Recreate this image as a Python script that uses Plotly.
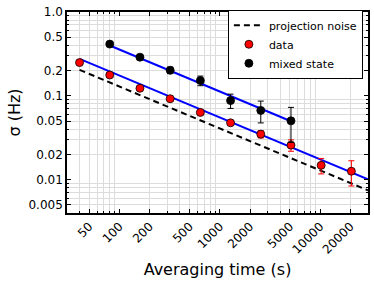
import plotly.graph_objects as go

# ---- data ----
t_data = [40, 80, 160, 320, 640, 1280, 2560, 5120, 10240, 20480]
sigma_data = [0.249, 0.177, 0.123, 0.0923, 0.0634, 0.0476, 0.0349, 0.0258, 0.0148, 0.0126]
err_data = [0.004, 0.003, 0.003, 0.003, 0.003, 0.0025, 0.0035, 0.004, 0.0031, 0.0042]

t_mixed = [80, 160, 320, 640, 1280, 2560, 5120]
sigma_mixed = [0.414, 0.289, 0.202, 0.152, 0.0877, 0.067, 0.0503]
err_mixed = [0.01, 0.012, 0.018, 0.02, 0.017, 0.0195, 0.0225]

proj_t = [40, 30000]
proj_sigma = [0.204, 0.00745]
fit_data_t = [40, 30000]
fit_data_sigma = [0.276, 0.01008]
fit_mixed_t = [80, 5120]
fit_mixed_sigma = [0.398, 0.04975]

x_tickvals = [50, 100, 200, 500, 1000, 2000, 5000, 10000, 20000]
x_ticktext = ["50", "100", "200", "500", "1000", "2000", "5000", "10000", "20000"]
y_tickvals = [0.005, 0.01, 0.02, 0.05, 0.1, 0.2, 0.5, 1.0]
y_ticktext = ["0.005", "0.01", "0.02", "0.05", "0.1", "0.2", "0.5", "1.0"]

x_grid = [m * 10 ** e for e in range(1, 5) for m in range(2, 10) if 30 <= m * 10 ** e <= 30000]
y_grid = [round(m * 10 ** e, 6) for e in range(-3, 0) for m in range(2, 10) if 0.004 <= m * 10 ** e <= 1]

FONT = "DejaVu Sans"
x_range = [1.477, 4.477]
y_range = [-2.398, 0.0]

fig = go.Figure()

fig.add_trace(go.Scatter(x=fit_data_t, y=fit_data_sigma, mode="lines",
                         line=dict(color="#0000ff", width=2), showlegend=False, hoverinfo="skip"))
fig.add_trace(go.Scatter(x=fit_mixed_t, y=fit_mixed_sigma, mode="lines",
                         line=dict(color="#0000ff", width=2), showlegend=False, hoverinfo="skip"))
fig.add_trace(go.Scatter(x=proj_t, y=proj_sigma, mode="lines", name="projection noise",
                         line=dict(color="black", width=2, dash="6px,4px")))
fig.add_trace(go.Scatter(x=t_data, y=sigma_data, mode="markers", name="data",
                         marker=dict(color="red", size=8, line=dict(color="black", width=0.8)),
                         error_y=dict(type="data", array=err_data, color="red", thickness=1, width=3)))
fig.add_trace(go.Scatter(x=t_mixed, y=sigma_mixed, mode="markers", name="mixed state",
                         marker=dict(color="black", size=8, line=dict(color="black", width=0.8)),
                         error_y=dict(type="data", array=err_mixed, color="black", thickness=1, width=3)))

common = dict(type="log", showline=True, linecolor="black", linewidth=1.5, mirror="allticks",
              zeroline=False, showgrid=False, ticks="inside", ticklen=4, tickcolor="black",
              tickfont=dict(family=FONT, size=12, color="black"), automargin=False)

fig.update_layout(
    width=374, height=284,
    margin=dict(l=67, r=6, t=12, b=71),
    paper_bgcolor="white", plot_bgcolor="white",
    font=dict(family=FONT, size=12, color="black"),
    xaxis=dict(range=x_range, tickmode="array", tickvals=x_tickvals, ticktext=x_ticktext,
               tickangle=-45,
               minor=dict(tickmode="array", tickvals=x_grid, showgrid=True, gridcolor="#dcdcdc",
                          gridwidth=1, ticks="inside", ticklen=2, tickcolor="black"),
               title=dict(text="Averaging time (s)", font=dict(family=FONT, size=16), standoff=8),
               **common),
    yaxis=dict(range=y_range, tickmode="array", tickvals=y_tickvals, ticktext=y_ticktext,
               minor=dict(tickmode="array", tickvals=y_grid, showgrid=True, gridcolor="#dcdcdc",
                          gridwidth=1, ticks="inside", ticklen=2, tickcolor="black"),
               title=dict(text="σ (Hz)", font=dict(family=FONT, size=16), standoff=4),
               **common),
    legend=dict(x=0.983, y=1.011, xanchor="right", yanchor="top",
                bgcolor="white", bordercolor="black", borderwidth=1,
                font=dict(family=FONT, size=11), tracegroupgap=0),
    showlegend=True,
)

fig.write_html("out.html", config={"displayModeBar": False},
               post_script="document.body.style.margin='0';")
